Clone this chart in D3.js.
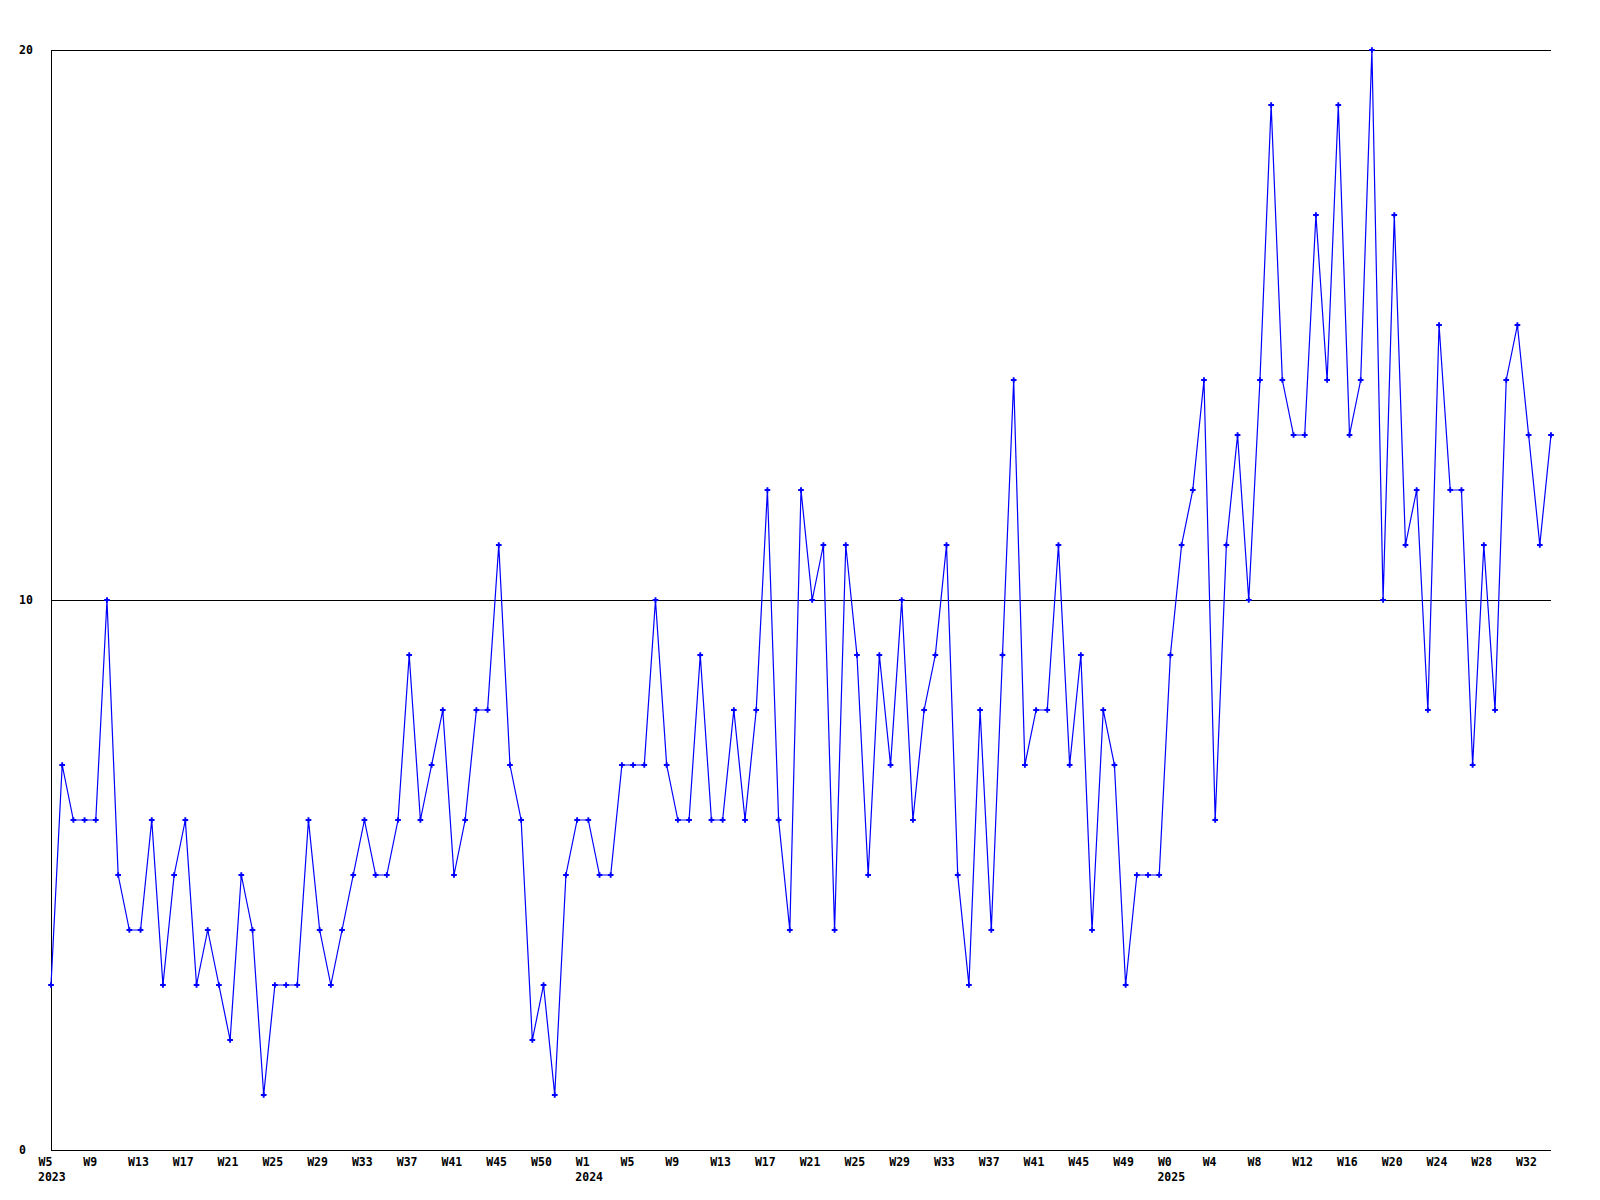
<!DOCTYPE html>
<html>
<head>
<meta charset="utf-8">
<script src="https://cdn.jsdelivr.net/npm/d3@7"></script>
<style>
  html, body { margin: 0; padding: 0; background: #fff; }
  svg { display: block; }
  text { font-family: "DejaVu Sans Mono", "Liberation Mono", monospace; font-weight: bold; font-size: 11.5px; fill: #000; }
</style>
</head>
<body>
<svg id="chart" width="1600" height="1200"></svg>
<script>
// Weekly values, 2023 W5 .. 2025 W33
const values = [
  3, 7, 6, 6, 6, 10, 5, 4, 4, 6,
  3, 5, 6, 3, 4, 3, 2, 5, 4, 1,
  3, 3, 3, 6, 4, 3, 4, 5, 6, 5,
  5, 6, 9, 6, 7, 8, 5, 6, 8, 8,
  11, 7, 6, 2, 3, 1, 5, 6, 6, 5,
  5, 7, 7, 7, 10, 7, 6, 6, 9, 6,
  6, 8, 6, 8, 12, 6, 4, 12, 10, 11,
  4, 11, 9, 5, 9, 7, 10, 6, 8, 9,
  11, 5, 3, 8, 4, 9, 14, 7, 8, 8,
  11, 7, 9, 4, 8, 7, 3, 5, 5, 5,
  9, 11, 12, 14, 6, 11, 13, 10, 14, 19,
  14, 13, 13, 17, 14, 19, 13, 14, 20, 10,
  17, 11, 12, 8, 15, 12, 12, 7, 11, 8,
  14, 15, 13, 11, 13
];

// Week tick labels, one every 4 weeks starting at the first point
const weekLabels = [
  "W5", "W9", "W13", "W17", "W21", "W25", "W29", "W33", "W37", "W41", "W45", "W50",
  "W1", "W5", "W9", "W13", "W17", "W21", "W25", "W29", "W33", "W37", "W41", "W45", "W49",
  "W0", "W4", "W8", "W12", "W16", "W20", "W24", "W28", "W32"
];
const weekStep = 4;

// Year labels and the week-tick (index into weekLabels) they sit under
const yearLabels = ["2023", "2024", "2025"];
const yearTickIndex = [0, 12, 25];

// Y-axis labelled values
const yTicks = [0, 10, 20];

(function () {
  const svg = d3.select("#chart");
  const mLeft = 51, mRight = 1551, mTop = 50, mBottom = 1150;

  const x = d3.scaleLinear().domain([0, values.length - 1]).range([mLeft, mRight]);
  const y = d3.scaleLinear().domain([0, 20]).range([mBottom, mTop]);

  // Horizontal grid lines at labelled values (except 0 which is the axis)
  svg.append("g").selectAll("line").data(yTicks.filter(d => d !== 0)).join("line")
    .attr("x1", mLeft).attr("x2", mRight)
    .attr("y1", d => Math.round(y(d)) + 0.5).attr("y2", d => Math.round(y(d)) + 0.5)
    .attr("stroke", "#000").attr("stroke-width", 1).attr("shape-rendering", "crispEdges");

  // Axis lines
  svg.append("line").attr("x1", mLeft + 0.5).attr("x2", mLeft + 0.5).attr("y1", mTop).attr("y2", mBottom + 0.5)
    .attr("stroke", "#000").attr("shape-rendering", "crispEdges");
  svg.append("line").attr("x1", mLeft).attr("x2", mRight).attr("y1", mBottom + 0.5).attr("y2", mBottom + 0.5)
    .attr("stroke", "#000").attr("shape-rendering", "crispEdges");

  // Y labels
  svg.append("g").selectAll("text").data(yTicks).join("text")
    .attr("x", 19).attr("y", d => y(d)).attr("dy", "0.35em")
    .text(d => d);

  // X week labels through a d3 axis
  const tickVals = weekLabels.map((_, i) => i * weekStep);
  const xAxis = d3.axisBottom(x).tickValues(tickVals)
    .tickFormat((d, i) => weekLabels[i]).tickSize(0).tickPadding(0);
  const gx = svg.append("g").attr("transform", `translate(0,${mBottom})`).call(xAxis);
  gx.select(".domain").remove();
  gx.attr("font-family", null).attr("font-size", null);
  gx.selectAll("text")
    .attr("text-anchor", "start").attr("dx", -13).attr("y", 16).attr("dy", 0)
    .attr("fill", "#000");

  // Year labels
  svg.append("g").selectAll("text").data(yearLabels).join("text")
    .attr("x", (d, i) => x(yearTickIndex[i] * weekStep) - 13)
    .attr("y", mBottom + 31)
    .text(d => d);

  // Data line
  const line = d3.line().x((d, i) => x(i)).y(d => y(d));
  svg.append("path").datum(values)
    .attr("d", line).attr("fill", "none").attr("stroke", "#0000ff").attr("stroke-width", 1.2);

  // Markers
  const sym = d3.symbol().type(d3.symbolCross).size(18);
  svg.append("g").selectAll("path").data(values).join("path")
    .attr("transform", (d, i) => `translate(${x(i)},${y(d)})`)
    .attr("d", sym).attr("fill", "#0000ff");
})();
</script>
</body>
</html>
